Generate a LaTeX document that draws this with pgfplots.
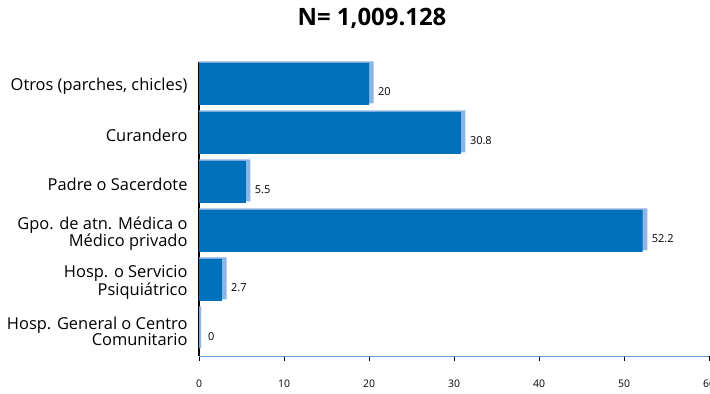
\documentclass[border=0pt]{standalone}
\usepackage{fontspec}
\setmainfont{Open Sans}
\usepackage{pgfplots}
\pgfplotsset{compat=1.18}
\definecolor{barfront}{RGB}{0,112,186}
\definecolor{barside}{RGB}{141,180,226}
\definecolor{xaxisblue}{RGB}{91,155,213}
\begin{document}
\begin{tikzpicture}
\useasboundingbox (0,0) rectangle (710bp,394bp);
\node[font=\bfseries\fontsize{24}{26}\selectfont] at (372bp,376bp) {N= 1,009.128};
\begin{axis}[
  at={(199bp,38bp)}, anchor=south west,
  scale only axis, width=510bp, height=294bp,
  xmin=0, xmax=60, ymin=-0.5, ymax=5.5,
  xtick={0,10,...,60},
  ytick={0,...,5},
  yticklabels={
    {Hosp. General o Centro\\Comunitario},
    {Hosp. o Servicio\\Psiquiátrico},
    {Gpo. de atn. Médica o\\Médico privado},
    {Padre o Sacerdote},
    {Curandero},
    {Otros (parches, chicles)}},
  minor ytick={-0.5,0.5,...,5.5},
  axis x line*=bottom, axis y line*=left,
  x axis line style={-, color=xaxisblue, line width=1pt},
  y axis line style={-, black, line width=1.2pt},
  tick align=outside,
  major tick length=5bp, minor tick length=6bp,
  ytick style={draw=none},
  minor tick style={black, line width=0.8pt},
  xtick style={black, line width=0.8pt},
  /pgf/number format/assume math mode=true,
  yticklabel style={align=right, font=\fontsize{16.5}{16.5}\selectfont, xshift=-3bp},
  xticklabel style={font=\fontsize{10.5}{12}\selectfont, yshift=-15bp},
  xbar, bar width=42bp,
  clip=false,
]
% depth face behind each bar
\addplot[fill=barside, draw=none, bar shift=4bp]
  coordinates {(0.25,0) (3.25,1) (52.75,2) (6.05,3) (31.35,4) (20.55,5)};
% front face with value labels
\addplot[fill=barfront, draw=none, bar shift=2.5bp,
  nodes near coords, point meta=explicit symbolic,
  every node near coord/.style={anchor=west, inner sep=0pt, xshift=9bp, yshift=-5bp,
    font=\fontsize{11}{12}\selectfont, text=black}]
  coordinates {(0,0) [0] (2.7,1) [2.7] (52.2,2) [52.2] (5.5,3) [5.5] (30.8,4) [30.8] (20,5) [20]};
\end{axis}
\end{tikzpicture}
\end{document}
